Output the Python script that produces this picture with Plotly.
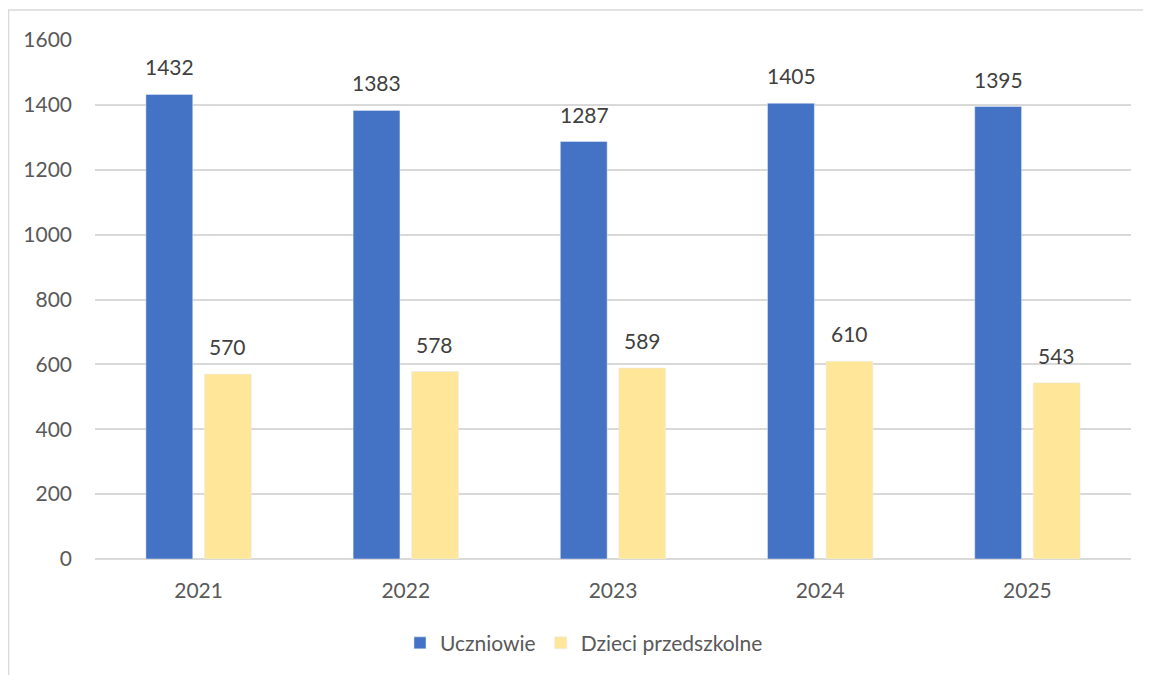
import plotly.graph_objects as go

years = ["2021", "2022", "2023", "2024", "2025"]
uczniowie = [1432, 1383, 1287, 1405, 1395]
przedszkolne = [570, 578, 589, 610, 543]

FONT = "Lato"
LABEL = "#404040"
AXIS = "#595959"

fig = go.Figure()
fig.add_trace(go.Bar(x=years, y=uczniowie, name="Uczniowie", marker_color="#4472C4"))
fig.add_trace(go.Bar(x=years, y=przedszkolne, name="Dzieci przedszkolne", marker_color="#FFE699"))

# value labels sit well above the bars, like in the original
# (category axis: annotations take the category index)
for i, (a, b) in enumerate(zip(uczniowie, przedszkolne)):
    for val, shift in ((a, -29), (b, 29)):
        fig.add_annotation(x=i, y=val, text=str(val), showarrow=False,
                           xshift=shift, yshift=13, yanchor="bottom",
                           font=dict(family=FONT, size=21, color=LABEL))

# page is drawn with an 8px body margin, so the figure is a bit smaller
fig.update_layout(
    width=1143, height=667,
    margin=dict(l=87, r=20, t=32, b=115),
    paper_bgcolor="white", plot_bgcolor="white",
    barmode="group", bargap=0.435, bargroupgap=0.2,
    font=dict(family=FONT, size=21, color=AXIS),
    showlegend=True,
    legend=dict(orientation="h", x=0.472, xanchor="center", y=-0.16, yanchor="middle",
                font=dict(size=21, color=AXIS), itemwidth=30, tracegroupgap=0),
    shapes=[dict(type="rect", xref="paper", yref="paper",
                 x0=-86.5 / 1036, x1=1.2, y0=-0.5, y1=1 + 30 / 520,
                 line=dict(color="#d9d9d9", width=1.5), layer="below")],
)
fig.update_xaxes(type="category", range=[-0.5, len(years) - 0.5], showgrid=False,
                 showline=False, ticks="", ticklabelstandoff=17,
                 tickfont=dict(size=21, color=AXIS))
fig.update_yaxes(range=[0, 1600], dtick=200, gridcolor="#d9d9d9", gridwidth=1.5,
                 zeroline=True, zerolinecolor="#d9d9d9", zerolinewidth=1.5,
                 ticks="", ticklabelstandoff=22, tickfont=dict(size=21, color=AXIS))

fig.write_html("out.html")
